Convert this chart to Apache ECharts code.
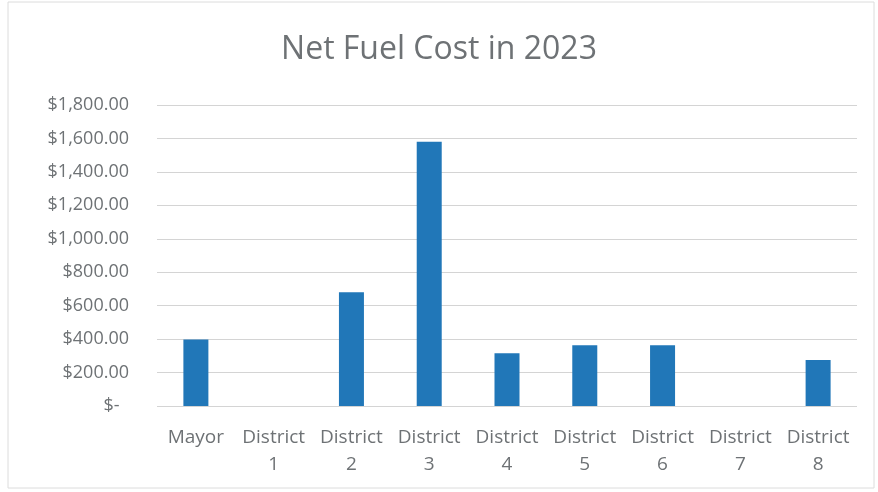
<!DOCTYPE html>
<html>
<head>
<meta charset="utf-8">
<script src="https://cdn.jsdelivr.net/npm/echarts@6/dist/echarts.min.js"></script>
<style>
  html, body { margin: 0; padding: 0; background: #fff; }
  #graph { width: 878px; height: 492px; }
</style>
</head>
<body>
<div id="graph"></div>
<script>
var categories = ['Mayor', 'District\n1', 'District\n2', 'District\n3', 'District\n4',
    'District\n5', 'District\n6', 'District\n7', 'District\n8'];
var netFuelCost = [398, 0, 680, 1580, 316, 364, 364, 0, 275];
var yTickLabels = ['$-  ', '$200.00', '$400.00', '$600.00', '$800.00', '$1,000.00',
    '$1,200.00', '$1,400.00', '$1,600.00', '$1,800.00'];

var dom = document.getElementById("graph");
var myChart = echarts.init(dom);
var option = {
    title: {
        text: 'Net Fuel Cost in 2023',
        left: 'center',
        top: 29,
        textStyle: {
            color: '#6e7275',
            fontSize: 32,
            fontWeight: 'normal',
            fontFamily: 'Open Sans'
        }
    },
    grid: {
        left: 157,
        right: 21,
        top: 105,
        bottom: 86
    },
    xAxis: {
        type: 'category',
        data: categories,
        axisLine: { show: false },
        axisTick: { show: false },
        axisLabel: {
            color: '#6e7275',
            fontSize: 19,
            fontFamily: 'Open Sans',
            lineHeight: 27,
            margin: 18,
            interval: 0
        }
    },
    yAxis: {
        type: 'value',
        min: 0,
        max: 1800,
        interval: 200,
        axisLine: { show: false },
        axisTick: { show: false },
        splitLine: { lineStyle: { color: '#d4d4d4', width: 1 } },
        axisLabel: {
            color: '#6e7275',
            fontSize: 18,
            fontFamily: 'Open Sans',
            margin: 28,
            formatter: function (v) { return yTickLabels[Math.round(v / 200)]; }
        }
    },
    series: [{
        type: 'bar',
        data: netFuelCost,
        barWidth: 25,
        itemStyle: { color: '#2177b8' }
    }],
    graphic: [{
        type: 'rect',
        shape: { x: 8, y: 2, width: 866, height: 486 },
        style: { fill: 'none', stroke: '#dcdcdc', lineWidth: 1 }
    }]
};
myChart.setOption(option, true);
</script>
</body>
</html>
